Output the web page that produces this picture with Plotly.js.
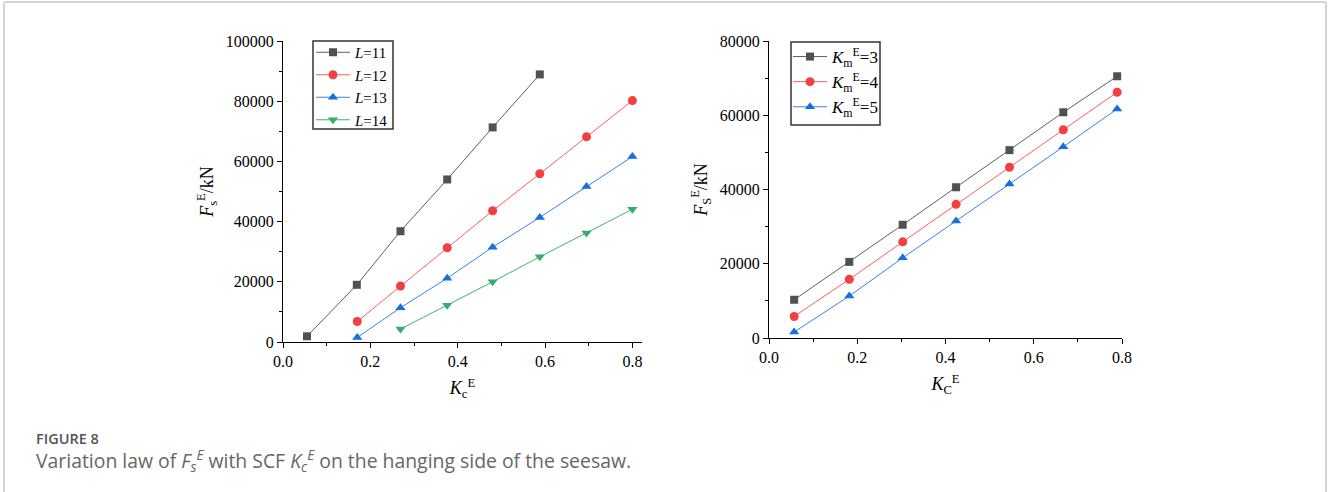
<!DOCTYPE html>
<html><head><meta charset="utf-8">
<script src="https://cdn.plot.ly/plotly-3.0.1.min.js"></script>
<style>
html,body{margin:0;padding:0;background:#fff;}
#wrap{position:relative;width:1328px;height:492px;overflow:hidden;}
#frame{position:absolute;left:3px;top:1px;width:1324px;height:520px;border:2px solid #d4d4d4;border-radius:3px;box-sizing:border-box;}
#chart{position:absolute;left:0;top:0;width:1328px;height:492px;}
</style></head>
<body><div id="wrap"><div id="frame"></div><div id="chart"></div></div>
<script>
// Left panel: F_s^E vs K_c^E for different L
const xL11 = [0.055, 0.169, 0.269, 0.376, 0.480, 0.588];
const yL11 = [1900, 19000, 36800, 54000, 71300, 88900];
const xL12 = [0.170, 0.269, 0.376, 0.480, 0.588, 0.695, 0.800];
const yL12 = [6800, 18600, 31300, 43600, 55900, 68200, 80200];
const xL13 = [0.170, 0.269, 0.376, 0.480, 0.588, 0.695, 0.800];
const yL13 = [1500, 11400, 21200, 31500, 41400, 51700, 61600];
const xL14 = [0.269, 0.376, 0.480, 0.588, 0.695, 0.800];
const yL14 = [4300, 12200, 20000, 28300, 36200, 44100];
const namesL = ['<i>L</i>=11', '<i>L</i>=12', '<i>L</i>=13', '<i>L</i>=14'];

// Right panel: F_S^E vs K_C^E for different Km^E
const xK = [0.057, 0.182, 0.303, 0.424, 0.545, 0.667, 0.789];
const yK3 = [10300, 20500, 30500, 40600, 50600, 60800, 70500];
const yK4 = [5800, 15800, 25900, 36000, 46000, 56100, 66200];
const yK5 = [1600, 11300, 21600, 31500, 41500, 51500, 61700];
const namesK = ['<i>K</i><sub>m</sub><sup>E</sup>=3', '<i>K</i><sub>m</sub><sup>E</sup>=4', '<i>K</i><sub>m</sub><sup>E</sup>=5'];

const cols = ['#515151', '#F14040', '#1A6FDF', '#37AD6B'];
const lineCols = ['#606060', '#F46060', '#3A82E4', '#3DB574'];
const syms = ['square', 'circle', 'triangle-up', 'triangle-down'];

function tr(x, y, i, name, ax, leg) {
  return {x: x, y: y, name: name, type: 'scatter', mode: 'lines+markers',
    xaxis: ax[0], yaxis: ax[1], legend: leg,
    line: {color: lineCols[i], width: 1},
    marker: {color: cols[i], symbol: syms[i], size: i === 0 ? 8 : 9}};
}
const data = [
  tr(xL11, yL11, 0, namesL[0], ['x', 'y'], 'legend'),
  tr(xL12, yL12, 1, namesL[1], ['x', 'y'], 'legend'),
  tr(xL13, yL13, 2, namesL[2], ['x', 'y'], 'legend'),
  tr(xL14, yL14, 3, namesL[3], ['x', 'y'], 'legend'),
  tr(xK, yK3, 0, namesK[0], ['x2', 'y2'], 'legend2'),
  tr(xK, yK4, 1, namesK[1], ['x2', 'y2'], 'legend2'),
  tr(xK, yK5, 2, namesK[2], ['x2', 'y2'], 'legend2')
];

const serif = 'Liberation Serif, Times New Roman, serif';
const minorX = {ticks: 'outside', ticklen: 3, tickwidth: 1, tickcolor: '#000', dtick: 0.1};
const minorY = {ticks: 'outside', ticklen: 3, tickwidth: 1, tickcolor: '#000', dtick: 10000};
const titleFont = {family: serif, size: 18, color: '#000'};
function axis(extra) {
  return Object.assign({
    showline: true, linecolor: '#000', linewidth: 1, mirror: false,
    showgrid: false, zeroline: false,
    ticks: 'outside', ticklen: 5, tickwidth: 1, tickcolor: '#000',
    tickfont: {family: serif, size: 16, color: '#000'}
  }, extra);
}
const W = 1328, H = 492;
const layout = {
  width: W, height: H, margin: {l: 0, r: 0, t: 0, b: 0},
  paper_bgcolor: 'rgba(0,0,0,0)', plot_bgcolor: 'rgba(0,0,0,0)',
  showlegend: true,
  xaxis: axis({domain: [283 / W, 642 / W], range: [0, 0.822], dtick: 0.2, tick0: 0, tickformat: '.1f',
    minor: minorX,
    title: {text: '<i>K</i><sub>c</sub><sup>E</sup>', font: titleFont, standoff: 12},
    anchor: 'y'}),
  yaxis: axis({domain: [1 - 342 / H, 1 - 41 / H], range: [0, 100000], dtick: 20000, tickformat: 'd',
    minor: minorY,
    title: {text: '<i>F</i><sub>s</sub><sup>E</sup>/kN', font: titleFont, standoff: 7},
    anchor: 'x'}),
  xaxis2: axis({domain: [769 / W, 1122 / W], range: [0, 0.8], dtick: 0.2, tick0: 0, tickformat: '.1f',
    minor: minorX,
    title: {text: '<i>K</i><sub>C</sub><sup>E</sup>', font: titleFont, standoff: 12},
    anchor: 'y2'}),
  yaxis2: axis({domain: [1 - 338 / H, 1 - 41 / H], range: [0, 80000], dtick: 20000, tickformat: 'd',
    minor: minorY,
    title: {text: '<i>F</i><sub>S</sub><sup>E</sup>/kN', font: titleFont, standoff: 7},
    anchor: 'x2'}),
  legend: {x: 311 / W, y: 1 - 36 / H, xanchor: 'left', yanchor: 'top',
    borderwidth: 0, bgcolor: 'rgba(255,255,255,0)',
    font: {family: serif, size: 15, color: '#000'}, itemwidth: 34, tracegroupgap: 0},
  legend2: {x: 788 / W, y: 1 - 39 / H, xanchor: 'left', yanchor: 'top',
    borderwidth: 0, bgcolor: 'rgba(255,255,255,0)',
    font: {family: serif, size: 17, color: '#000'}, itemwidth: 34, tracegroupgap: 0},
  shapes: [
    {type: 'rect', xref: 'paper', yref: 'paper', x0: 313 / W, x1: 393 / W, y0: 1 - 129 / H, y1: 1 - 41 / H,
      line: {color: '#333', width: 1.5}},
    {type: 'rect', xref: 'paper', yref: 'paper', x0: 791 / W, x1: 880 / W, y0: 1 - 125 / H, y1: 1 - 42 / H,
      line: {color: '#333', width: 1.5}}
  ],
  annotations: [
    {text: 'FIGURE 8', xref: 'paper', yref: 'paper', x: 35 / W, y: 1 - 438 / H, xanchor: 'left', yanchor: 'middle',
      borderpad: 0, showarrow: false, font: {family: 'Open Sans, Noto Sans, sans-serif', size: 14.5, weight: 600, color: '#555'}},
    {text: 'Variation law of <i>F<sub>s</sub><sup>E</sup></i> with SCF <i>K<sub>c</sub><sup>E</sup></i> on the hanging side of the seesaw.',
      xref: 'paper', yref: 'paper', x: 35 / W, y: 1 - 460 / H, xanchor: 'left', yanchor: 'middle',
      borderpad: 0, showarrow: false, font: {family: 'Open Sans, Noto Sans, sans-serif', size: 19.4, color: '#666'}}
  ]
};
Plotly.newPlot('chart', data, layout, {displayModeBar: false, staticPlot: true});
</script></body></html>
